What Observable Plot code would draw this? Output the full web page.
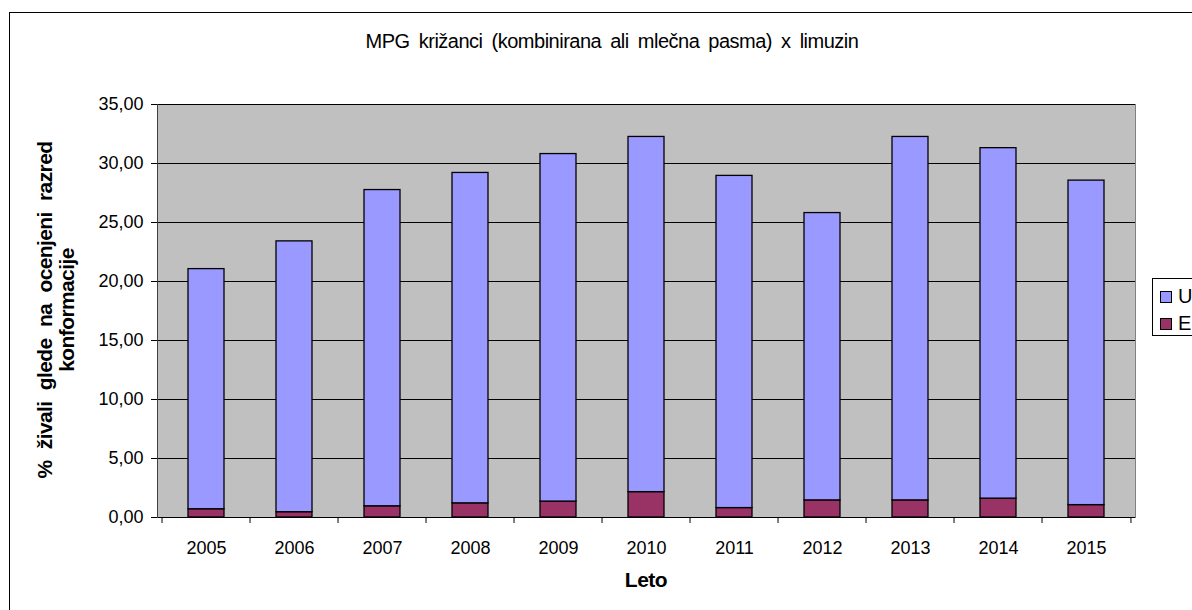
<!DOCTYPE html>
<html><head><meta charset="utf-8">
<script src="https://cdn.jsdelivr.net/npm/d3@7"></script>
<script src="https://cdn.jsdelivr.net/npm/@observablehq/plot@0.6"></script>
<style>
body{margin:0;background:#fff;font-family:"Liberation Sans",Arial,sans-serif;}
#wrap{position:relative;width:1192px;height:610px;overflow:hidden;background:#fff;}
#frame{position:absolute;left:9px;top:12px;width:1220px;height:640px;border:1px solid #000;box-sizing:border-box;}
#chart{position:absolute;left:0;top:0;}
#title{position:absolute;top:30px;left:0;width:1224px;text-align:center;font-size:20px;letter-spacing:-0.5px;word-spacing:4px;color:#000;}
#ylab{position:absolute;left:56px;top:310px;width:460px;margin-left:-230px;transform:translateY(-50%) rotate(-90deg);text-align:center;font-size:21px;font-weight:bold;line-height:22px;letter-spacing:-0.6px;word-spacing:6px;}
#xlab{position:absolute;left:0;width:1292px;top:568px;text-align:center;font-size:21px;font-weight:bold;letter-spacing:-0.5px;}
#legend{position:absolute;left:1152px;top:278px;width:80px;height:58px;border:1px solid #000;box-sizing:border-box;background:#fff;}
.li{position:absolute;left:7px;font-size:20px;line-height:20px;}
.sw{display:inline-block;width:10px;height:10px;border:1px solid #000;margin-right:6px;vertical-align:0px;}
</style>
</head><body>
<div id="wrap">
  <div id="frame"></div>
  <div id="chart"></div>
  <div id="title">MPG križanci (kombinirana ali mlečna pasma) x limuzin</div>
  <div id="ylab">% živali glede na ocenjeni razred<br>konformacije</div>
  <div id="xlab">Leto</div>
  <div id="legend"></div>
</div>
<script>
const years = ["2005","2006","2007","2008","2009","2010","2011","2012","2013","2014","2015"];
const seriesNames = ["E","U"];
const valuesE = [0.70,0.45,0.95,1.20,1.35,2.15,0.80,1.45,1.45,1.60,1.05];
const valuesU = [20.35,22.95,26.80,28.00,29.45,30.10,28.15,24.35,30.80,29.70,27.50];
const yTicks = [0,5,10,15,20,25,30,35];
const colors = {U:"#9999FF", E:"#993366"};

const table = [];
years.forEach((y,i)=>{
  table.push({year:y, series:"E", value:valuesE[i]});
  table.push({year:y, series:"U", value:valuesU[i]});
});

const W = 1192, H = 610;
const mL = 157, mR = 57, mT = 104, mB = 93;
const plotW = W - mL - mR, plotH = H - mT - mB;
const step = plotW / years.length;
const fmt = d => d3.format(".2f")(d).replace(".", ",");

const chart = Plot.plot({
  width: W, height: H,
  marginLeft: mL, marginRight: mR, marginTop: mT, marginBottom: mB,
  style: {fontFamily: '"Liberation Sans", Arial, sans-serif', fontSize: "18px", background: "transparent", color: "#000"},
  x: {type: "band", domain: years, paddingInner: 0.59, paddingOuter: 0.295, label: null},
  y: {domain: [0, 35], label: null},
  color: {domain: ["U","E"], range: [colors.U, colors.E]},
  marks: [
    Plot.frame({fill: "#C0C0C0", stroke: "#808080"}),
    Plot.gridY(yTicks.filter(d => d > 0), {stroke: "#000", strokeOpacity: 1, strokeWidth: 1}),
    Plot.barY(table, Plot.stackY({x: "year", y: "value", fill: "series", stroke: "#000", strokeWidth: 1.3})),
    Plot.ruleY([0], {stroke: "#000"}),
    Plot.frame({anchor: "left", stroke: "#404040"}),
    Plot.axisY({ticks: yTicks, tickFormat: fmt, tickSize: 6, tickPadding: 8, fontSize: 18, label: null}),
    Plot.axisX({tickSize: 0, tickPadding: 24, fontSize: 18, label: null}),
    Plot.ruleX(years, {x: d => d, dx: -step/2, insetTop: plotH, insetBottom: -6, stroke: "#000"}),
    Plot.ruleX([years[years.length-1]], {x: d => d, dx: step/2, insetTop: plotH, insetBottom: -6, stroke: "#000"})
  ]
});
document.getElementById("chart").appendChild(chart);

const legend = document.getElementById("legend");
["U","E"].forEach((s,i)=>{
  const d = document.createElement("div");
  d.className = "li";
  d.style.top = (7 + i*27) + "px";
  d.innerHTML = `<span class="sw" style="background:${colors[s]}"></span>${s}`;
  legend.appendChild(d);
});
</script>
</body></html>
